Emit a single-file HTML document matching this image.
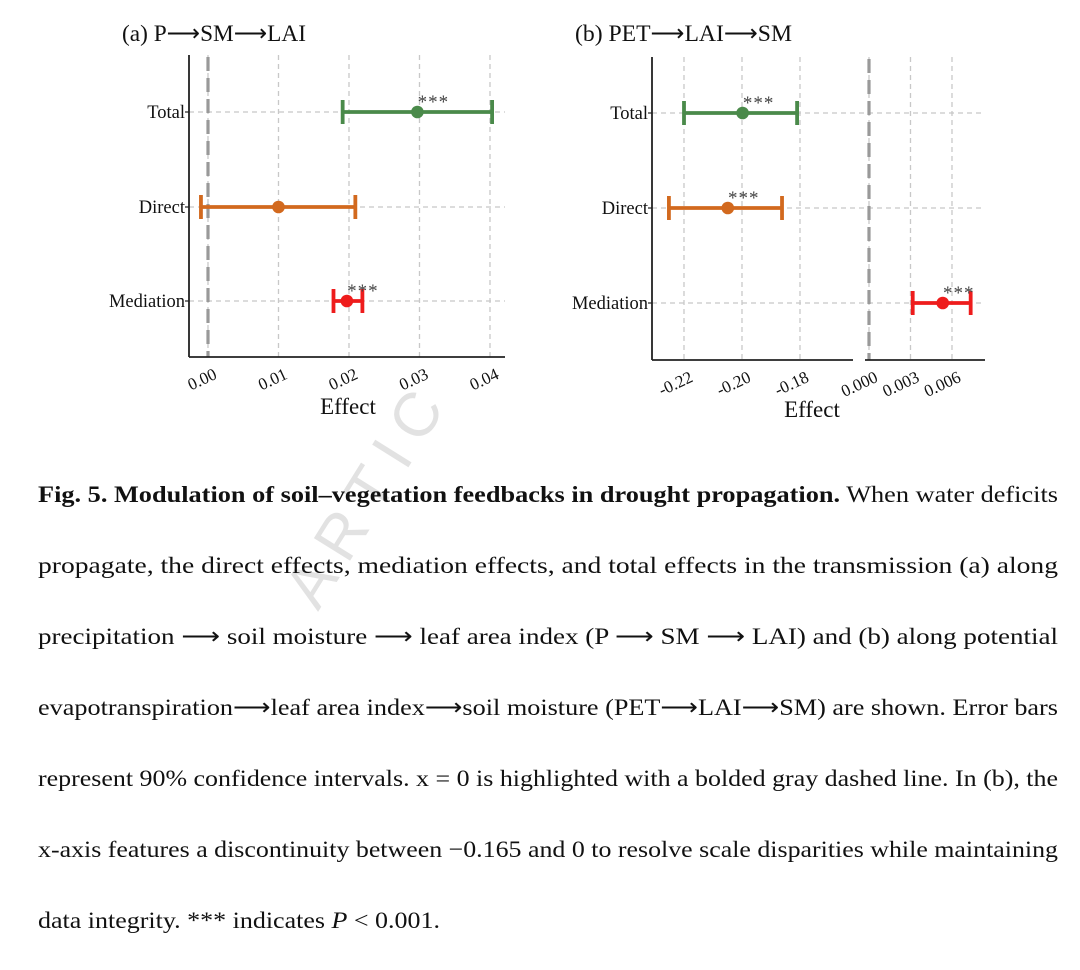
<!DOCTYPE html>
<html><head><meta charset="utf-8"><style>
html,body{margin:0;padding:0;background:#fff;}
svg{display:block;font-family:"Liberation Serif",serif;}
</style></head><body>
<svg id="fig" width="1080" height="970" viewBox="0 0 1080 970" xmlns="http://www.w3.org/2000/svg">
<g id="pa"></g>
<g id="pb"></g>
<text x="0" y="0" transform="translate(318,612) rotate(-58)" font-size="62" fill="#e2e2e2" font-family="Liberation Sans, sans-serif" letter-spacing="14">ARTIC</text>
<g font-size="23.5" fill="#111">
<text x="38" y="502" textLength="1020" lengthAdjust="spacingAndGlyphs"><tspan font-weight="bold">Fig. 5. Modulation of soil–vegetation feedbacks in drought propagation.</tspan> When water deficits</text>
<text x="38" y="573" textLength="1020" lengthAdjust="spacingAndGlyphs">propagate,  the  direct  effects,  mediation  effects,  and  total  effects  in  the  transmission  (a)  along</text>
<text x="38" y="644" textLength="1020" lengthAdjust="spacingAndGlyphs">precipitation ⟶ soil   moisture ⟶ leaf   area   index   (P ⟶ SM ⟶ LAI)   and   (b)   along   potential</text>
<text x="38" y="715" textLength="1020" lengthAdjust="spacingAndGlyphs">evapotranspiration⟶leaf area index⟶soil moisture (PET⟶LAI⟶SM) are shown. Error bars</text>
<text x="38" y="786" textLength="1020" lengthAdjust="spacingAndGlyphs">represent 90% confidence intervals. x = 0 is highlighted with a bolded gray dashed line. In (b), the</text>
<text x="38" y="857" textLength="1020" lengthAdjust="spacingAndGlyphs">x-axis features a discontinuity between −0.165 and 0 to resolve scale disparities while maintaining</text>
<text x="38" y="928" textLength="402" lengthAdjust="spacingAndGlyphs">data integrity. *** indicates <tspan font-style="italic">P</tspan> &lt; 0.001.</text>
</g>
</svg>
<script>
const categories = ["Total","Direct","Mediation"];
const colors = ["#4a8a4a","#d2691e","#ee1c1c"];
const aPoint = [0.0297, 0.0100, 0.0197];
const aLow = [0.0191, -0.0010, 0.0178];
const aHigh = [0.0403, 0.0209, 0.0219];
const aSig = [true, false, true];
const aTicks = [0.00, 0.01, 0.02, 0.03, 0.04];
const aTickLabels = ["0.00","0.01","0.02","0.03","0.04"];
const bPoint = [-0.1998, -0.2049, 0.00533];
const bLow = [-0.2200, -0.2252, 0.00316];
const bHigh = [-0.1810, -0.1862, 0.00735];
const bSig = [true, true, true];
const bTicksL = [-0.22, -0.20, -0.18];
const bTickLabelsL = ["-0.22","-0.20","-0.18"];
const bTicksR = [0.000, 0.003, 0.006];
const bTickLabelsR = ["0.000","0.003","0.006"];

const NS="http://www.w3.org/2000/svg";
function mk(parent,tag,attrs,text){const e=document.createElementNS(NS,tag);for(const k in attrs)e.setAttribute(k,attrs[k]);if(text!==undefined)e.textContent=text;parent.appendChild(e);return e;}

function panel(g, o){
  const yOf = i => o.rowY[i];
  let t=mk(g,'text',{x:o.titleX,y:41,'font-size':23,fill:'#111',textLength:o.titleW,lengthAdjust:'spacingAndGlyphs'},o.title);
  
  
  categories.forEach((c,i)=>{
    let l=mk(g,'line',{x1:o.axL,x2:o.axR,y1:yOf(i),y2:yOf(i),stroke:'#c8c8c8','stroke-width':1.3,'stroke-dasharray':'5,4'});
    
    
    let tk=mk(g,'line',{x1:o.axL-4,x2:o.axL,y1:yOf(i),y2:yOf(i),stroke:'#222','stroke-width':1.2});
    
    
    let lb=mk(g,'text',{x:o.axL-4,y:yOf(i)+6,'font-size':18.5,'text-anchor':'end',fill:'#111'},c);
    
    
  });
  o.segments.forEach(s=>{
    s.ticks.forEach((v,j)=>{
      const x=s.sx(v);
      let l=mk(g,'line',{x1:x,x2:x,y1:o.top,y2:o.bottom,stroke:'#c8c8c8','stroke-width':1.3,'stroke-dasharray':'5,4'});
      
      
      let lb=mk(g,'text',{'font-size':17,'text-anchor':'end',fill:'#111',transform:`translate(${x+10},${o.bottom+21}) rotate(-25)`},s.labels[j]);
      
      
    });
    if(s.zero!==undefined){
      const x=s.sx(0);
      let z=mk(g,'line',{x1:x,x2:x,y1:o.top+2,y2:o.bottom,stroke:'#999','stroke-width':3.2,'stroke-dasharray':'14,7'});
      
      
    }
    let ax=mk(g,'line',{x1:s.x0,x2:s.x1,y1:o.bottom,y2:o.bottom,stroke:'#222','stroke-width':1.8});
    
    
  });
  let ya=mk(g,'line',{x1:o.axL,x2:o.axL,y1:o.top,y2:o.bottom,stroke:'#222','stroke-width':1.8});
  
  
  let xt=mk(g,'text',{x:o.xTitleX,y:o.bottom+57,'font-size':23,'text-anchor':'middle',fill:'#111'},'Effect');
  
  
  categories.forEach((c,i)=>{
    const sx=o.scaleFor(i), y=yOf(i), col=colors[i];
    const x0=sx(o.low[i]), x1=sx(o.high[i]), xp=sx(o.point[i]);
    let bar=mk(g,'g',{});
    
    
    mk(bar,'line',{x1:x0,x2:x1,y1:y,y2:y,stroke:col,'stroke-width':3.8});
    mk(bar,'line',{x1:x0,x2:x0,y1:y-12,y2:y+12,stroke:col,'stroke-width':3.8});
    mk(bar,'line',{x1:x1,x2:x1,y1:y-12,y2:y+12,stroke:col,'stroke-width':3.8});
    let pt=mk(g,'circle',{cx:xp,cy:y,r:6.3,fill:col});
    
    
    if(o.sig[i]){
      let st=mk(g,'text',{x:xp+16,y:y-4,'font-size':19,'text-anchor':'middle',fill:'#444','letter-spacing':'1'},'***');
      
      
    }
  });
}

const sxA = v => 208 + v*7050;
panel(document.getElementById('pa'),{
  title:'(a) P⟶SM⟶LAI', titleX:122, titleW:184, axL:189, axR:505, top:55, bottom:357,
  rowY:[112,207,301], xTitleX:348,
  segments:[{x0:189,x1:505,sx:sxA,ticks:aTicks,labels:aTickLabels,zero:true}],
  scaleFor:()=>sxA, point:aPoint, low:aLow, high:aHigh, sig:aSig
});
const sxL = v => 742 + (v+0.20)*2900;
const sxR = v => 869 + v*13833;
panel(document.getElementById('pb'),{
  title:'(b) PET⟶LAI⟶SM', titleX:575, titleW:217, axL:652, axR:985, top:57, bottom:360,
  rowY:[113,208,303], xTitleX:812,
  segments:[{x0:652,x1:853,sx:sxL,ticks:bTicksL,labels:bTickLabelsL},
            {x0:865,x1:985,sx:sxR,ticks:bTicksR,labels:bTickLabelsR,zero:true}],
  scaleFor:i=> bPoint[i]<0?sxL:sxR, point:bPoint, low:bLow, high:bHigh, sig:bSig
});
</script>
</body></html>
